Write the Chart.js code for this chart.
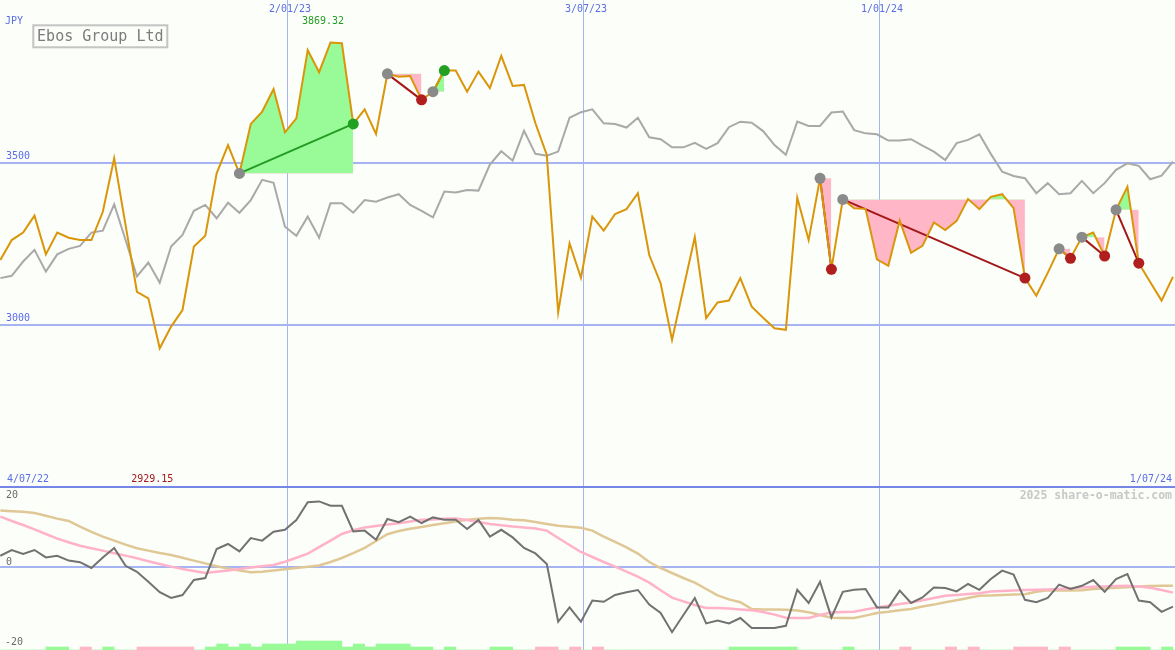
<!DOCTYPE html>
<html>
<head>
<meta charset="utf-8">
<title>Ebos Group Ltd</title>
<script src="https://cdn.jsdelivr.net/npm/chart.js@4.4.1/dist/chart.umd.min.js"></script>
<style>
  html, body { margin: 0; padding: 0; background: #fcfef9; }
  #wrap { position: relative; width: 1175px; height: 650px; overflow: hidden; background: #fcfef9; }
  canvas { position: absolute; left: 0; }
  #price { top: 0; }
  #osc { top: 485px; }
</style>
</head>
<body>
<div id="wrap">
  <canvas id="price" width="1175" height="485"></canvas>
  <canvas id="osc" width="1175" height="165"></canvas>
</div>
<script>
// weekly closes, 104 weeks
const PRICE = [
  3201, 3262, 3285, 3337, 3218, 3285, 3269, 3262, 3262, 3349,
  3513, 3308, 3103, 3083, 2929.15, 2996, 3047, 3242, 3275, 3467,
  3554, 3467, 3619, 3657, 3726, 3593, 3636, 3846, 3778, 3869.32,
  3867, 3619, 3664, 3588, 3773, 3764, 3766, 3693, 3718, 3783,
  3783, 3718, 3780, 3729, 3828, 3736, 3739, 3621, 3524, 3040,
  3252, 3146, 3334, 3291, 3342, 3357, 3406, 3216, 3129, 2955,
  3113, 3271, 3022, 3070, 3076, 3145, 3057, 3023, 2991, 2986,
  3392, 3262, 3452, 3172, 3387, 3360, 3358, 3203, 3183, 3322,
  3223, 3244, 3316, 3293, 3321, 3388, 3357, 3395, 3403, 3360,
  3145, 3091, 3161, 3235, 3206, 3271, 3285, 3213, 3355, 3426,
  3191, 3133, 3076, 3149,
];

// comparison line (grey)
const RELATIVE = [
  3145, 3152, 3196, 3232, 3165, 3218, 3235, 3244, 3285, 3291,
  3372, 3262, 3150, 3193, 3131, 3242, 3278, 3352, 3370, 3329,
  3377, 3346, 3385, 3447, 3438, 3303, 3275, 3334, 3269, 3375,
  3375, 3346, 3385, 3380, 3393, 3403, 3370, 3352, 3332, 3411,
  3408, 3416, 3414, 3494, 3535, 3506, 3598, 3527, 3521, 3534,
  3638, 3655, 3664, 3621, 3619, 3608, 3638, 3578, 3572, 3547,
  3547, 3561, 3542, 3560, 3609, 3626, 3623, 3597, 3554, 3524,
  3626, 3613, 3613, 3654, 3657, 3600, 3590, 3587, 3568, 3568,
  3572, 3552, 3534, 3508, 3560, 3570, 3587, 3527, 3472, 3459,
  3452, 3406, 3437, 3403, 3406, 3444, 3406, 3437, 3478, 3498,
  3490, 3449, 3460, 3503,
];

// lower panel
const MOMENTUM = [
  2.8, 4.25, 3.25, 4.25, 2.4, 2.8, 1.6, 1.2, -0.25, 2.4,
  4.75, 0.3, -1.2, -3.7, -6.3, -7.75, -7, -3.25, -2.75, 4.5,
  5.75, 3.9, 7.25, 6.6, 8.8, 9.3, 11.75, 16.2, 16.4, 15.3,
  15.3, 8.9, 9.1, 6.8, 12, 11.2, 12.6, 11, 12.4, 11.8,
  11.8, 9.5, 11.75, 7.6, 9.3, 7.4, 4.75, 3.4, 0.75, -13.7,
  -10.1, -13.7, -8.4, -8.7, -7, -6.3, -5.75, -9.4, -11.5, -16.3,
  -12, -7.75, -14.1, -13.4, -14.1, -12.75, -15.25, -15.25, -15.25, -14.7,
  -5.7, -9, -3.7, -12.6, -6.2, -5.7, -5.5, -10.1, -10.1, -5.9,
  -9, -7.6, -5.1, -5.25, -6.1, -4.25, -5.7, -3, -0.9, -1.9,
  -8.2, -8.8, -7.75, -4.4, -5.5, -4.7, -3.25, -6.2, -3, -1.75,
  -8.4, -8.8, -11.2, -9.9,
];

const FAST_AVG = [
  12.6, 11.5, 10.5, 9.4, 8.25, 7.1, 6.2, 5.3, 4.7, 4.1,
  3.45, 2.85, 2.2, 1.45, 0.75, 0.1, -0.5, -1.0, -1.5, -1.2,
  -0.9, -0.5, -0.15, 0.2, 0.5, 1.3, 2.3, 3.35, 4.95, 6.6,
  8.25, 9.2, 9.9, 10.25, 10.6, 10.95, 11.4, 11.8, 11.9, 12.05,
  12.15, 11.75, 11.25, 10.75, 10.45, 10.1, 9.9, 9.65, 9.1, 7.25,
  5.5, 3.75, 2.5, 1.25, 0.1, -1.15, -2.4, -3.9, -5.8, -7.65,
  -8.6, -9.5, -10.25, -10.25, -10.4, -10.6, -10.8, -11.25, -11.9, -12.7,
  -12.75, -12.75, -12, -11.35, -11.25, -11.2, -10.65, -10.1, -9.7, -9.25,
  -8.85, -8.3, -7.75, -7.2, -7, -6.75, -6.55, -6.1, -6, -5.9,
  -5.75, -5.7, -5.6, -5.5, -5.3, -5.1, -4.95, -4.85, -4.75, -4.7,
  -4.9, -5.2, -5.75, -6.4,
];

const SLOW_AVG = [
  14.1, 13.95, 13.8, 13.5, 12.8, 12.1, 11.5, 10.1, 8.8, 7.6,
  6.6, 5.6, 4.7, 4.1, 3.5, 3, 2.3, 1.6, 0.9, 0.2,
  -0.4, -0.9, -1.3, -1.2, -0.9, -0.55, -0.25, 0.05, 0.4, 1.25,
  2.25, 3.45, 4.8, 6.5, 8.2, 9, 9.55, 10, 10.5, 10.95,
  11.4, 11.8, 12.05, 12.25, 12.1, 11.8, 11.7, 11.25, 10.75, 10.3,
  10.05, 9.8, 9.1, 7.6, 6.3, 4.9, 3.35, 1.25, -0.25, -1.5,
  -2.75, -3.9, -5.5, -7.1, -8.1, -8.8, -10.5, -10.6, -10.6, -10.7,
  -10.9, -11.3, -12, -12.7, -12.75, -12.75, -12.15, -11.5, -11.2, -10.8,
  -10.5, -9.9, -9.4, -8.8, -8.3, -7.75, -7.2, -7.1, -7, -6.9,
  -6.8, -6.2, -5.8, -5.85, -5.9, -5.8, -5.5, -5.35, -5.2, -5.05,
  -4.9, -4.75, -4.7, -4.7,
];

// signal strip at the bottom: + green, - pink
const SIGNAL = [
  0, 0, 0, 0, 1, 1, 0, -1, 0, 1,
  0, 0, -1, -1, -1, -1, -1, 0, 1, 2,
  1, 2, 1, 2, 2, 2, 3, 3, 3, 3,
  1, 2, 1, 2, 2, 2, 1, 1, 0, 1,
  0, 0, 0, 1, 1, 0, 0, -1, -1, 0,
  -1, 0, -1, 0, 0, 0, 0, 0, 0, 0,
  0, 0, 0, 0, 1, 1, 1, 1, 1, 1,
  0, 0, 0, 0, 1, 0, 0, 0, 0, -1,
  0, 0, 0, -1, 0, -1, 0, 0, 0, -1,
  -1, -1, 0, -1, 0, 0, 0, 0, 1, 1,
  1, 0, 1, 0,
];

const TRADE_ENTRY = [21, 34, 38, 72, 74, 93, 95, 98];
const TRADE_EXIT = [31, 37, 39, 73, 90, 94, 97, 100];

const DATE_LABELS = ['4/07/22', '2/01/23', '3/07/23', '1/01/24', '1/07/24'];
const DATE_WEEKS = [-0.82, 25.18, 51.18, 77.18, 103.18];
const PRICE_TICKS = [3000, 3500];
const OSC_TICKS = [20, 0, -20];

const TITLE = 'Ebos Group Ltd';
const CURRENCY = 'JPY';
const WATERMARK = '2025 share-o-matic.com';

const X_MIN = -0.03;
const X_MAX = 103.18;

const BG = '#fcfef9';
const GRID = '#a6b4f2';
const GRID_DARK = '#7686e6';
const AXIS_BLUE = '#5a6de6';
const FONT = '"DejaVu Sans Mono", "Liberation Mono", monospace';
const FILL_UP = '#98fb98';
const FILL_DOWN = '#ffb6c6';

const toPoints = (values) => values.map((y, x) => ({ x, y }));

function xScaleOptions() {
  return {
    type: 'linear',
    min: X_MIN,
    max: X_MAX,
    offset: false,
    border: { display: false },
    ticks: { display: false },
    grid: { drawTicks: false, offset: false, color: GRID, lineWidth: 1 },
    afterBuildTicks(scale) {
      scale.ticks = DATE_WEEKS.slice(1, -1).map((value) => ({ value }));
    },
  };
}

function tradeDatasets() {
  const sets = [];

  TRADE_ENTRY.forEach((entry, i) => {
    const exit = TRADE_EXIT[i];
    const won = PRICE[exit] > PRICE[entry];
    const ends = [{ x: entry, y: PRICE[entry] }, { x: exit, y: PRICE[exit] }];
    const span = [];

    for (let k = entry; k <= exit; k++) {
      span.push({ x: k, y: PRICE[k] });
    }

    sets.push({
      data: span,
      borderWidth: 0,
      pointRadius: 0,
      order: 10,
      fill: { target: { value: PRICE[entry] }, above: FILL_UP, below: FILL_DOWN },
    });

    // entry -> exit line sits under the price line, markers on top
    sets.push({
      data: ends,
      borderColor: won ? '#249c24' : '#a31818',
      borderWidth: 2,
      pointRadius: 0,
      order: 5.5,
    });

    sets.push({
      data: ends,
      showLine: false,
      pointRadius: 5.5,
      pointBorderWidth: 0,
      pointBackgroundColor: ['#8a8a8a', won ? '#22a022' : '#b01e1e'],
      order: 1,
    });
  });

  return sets;
}

const priceLabels = {
  id: 'priceLabels',
  afterDatasetsDraw(chart) {
    const { ctx, scales: { x, y } } = chart;
    const last = DATE_LABELS.length - 1;
    ctx.save();
    ctx.font = `10px ${FONT}`;
    ctx.textBaseline = 'middle';
    ctx.fillStyle = AXIS_BLUE;
    ctx.textAlign = 'left';
    ctx.fillText(CURRENCY, 5, 21);
    PRICE_TICKS.forEach((v) => ctx.fillText(String(v), 6, y.getPixelForValue(v) - 6.5));
    ctx.fillText(DATE_LABELS[0], 7, 479);
    ctx.textAlign = 'right';
    ctx.fillText(DATE_LABELS[last], 1172, 479);
    ctx.textAlign = 'center';
    for (let i = 1; i < last; i++) {
      ctx.fillText(DATE_LABELS[i], x.getPixelForValue(DATE_WEEKS[i]) + 3, 9);
    }

    const hi = PRICE.indexOf(Math.max(...PRICE));
    const lo = PRICE.indexOf(Math.min(...PRICE));
    ctx.fillStyle = '#249c24';
    ctx.fillText(PRICE[hi].toFixed(2), x.getPixelForValue(hi) - 7.5, 21);
    ctx.fillStyle = '#a31818';
    ctx.fillText(PRICE[lo].toFixed(2), x.getPixelForValue(lo) - 7.5, 479);

    // title box
    ctx.fillStyle = BG;
    ctx.fillRect(33.3, 25.3, 134, 22);
    ctx.strokeStyle = '#c4c4c4';
    ctx.lineWidth = 2;
    ctx.strokeRect(33.3, 25.3, 134, 22);
    ctx.fillStyle = '#7c7c7c';
    ctx.font = `15px ${FONT}`;
    ctx.fillText(TITLE, 100.3, 37);
    ctx.restore();
  },
};

const oscLabels = {
  id: 'oscLabels',
  afterDatasetsDraw(chart) {
    const { ctx, scales: { y } } = chart;
    ctx.save();
    ctx.font = `10px ${FONT}`;
    ctx.textBaseline = 'middle';
    ctx.textAlign = 'left';
    ctx.fillStyle = '#6a6a6a';
    OSC_TICKS.forEach((v) => {
      ctx.fillText(String(v), v < 0 ? 5 : 6, Math.max(y.getPixelForValue(v) - 4.5, 10.5));
    });
    ctx.font = `bold 11.5px ${FONT}`;
    ctx.textAlign = 'right';
    ctx.fillStyle = '#c8c8c8';
    ctx.fillText(WATERMARK, 1172, 11.5);
    ctx.restore();
  },
};

const baseOptions = {
  responsive: false,
  animation: false,
  events: [],
  layout: { padding: 0, autoPadding: false },
  plugins: { legend: { display: false }, tooltip: { enabled: false } },
  elements: { line: { tension: 0 }, point: { radius: 0, hoverRadius: 0 } },
};

new Chart(document.getElementById('price'), {
  type: 'line',
  data: {
    datasets: [
      ...tradeDatasets(),
      { data: toPoints(RELATIVE), borderColor: '#a9a9a9', borderWidth: 2, fill: false, order: 6 },
      { data: toPoints(PRICE), borderColor: '#d9960a', borderWidth: 2, fill: false, order: 5 },
    ],
  },
  options: {
    ...baseOptions,
    scales: {
      x: xScaleOptions(),
      y: {
        min: 2509,
        max: 4000,
        border: { display: false },
        ticks: { display: false },
        grid: { drawTicks: false, color: GRID, lineWidth: 2 },
        afterBuildTicks(scale) {
          scale.ticks = PRICE_TICKS.map((value) => ({ value }));
        },
      },
    },
  },
  plugins: [priceLabels],
});

new Chart(document.getElementById('osc'), {
  type: 'line',
  data: {
    datasets: [
      {
        type: 'bar',
        yAxisID: 'sig',
        data: SIGNAL.map((v, k) => ({ x: k + 0.5, y: Math.abs(v) })),
        backgroundColor: SIGNAL.map((v) => (v >= 0 ? FILL_UP : FILL_DOWN)),
        borderWidth: 0,
        barPercentage: 1,
        categoryPercentage: 1,
        order: 9,
      },
      { data: toPoints(SLOW_AVG), borderColor: '#e0c896', borderWidth: 2.5, fill: false, order: 4 },
      { data: toPoints(FAST_AVG), borderColor: '#ffb2c8', borderWidth: 2.5, fill: false, order: 3 },
      { data: toPoints(MOMENTUM), borderColor: '#727272', borderWidth: 2, fill: false, order: 2 },
    ],
  },
  options: {
    ...baseOptions,
    scales: {
      x: xScaleOptions(),
      y: {
        min: -20.75,
        max: 20.5,
        border: { display: false },
        ticks: { display: false },
        grid: {
          drawTicks: false,
          lineWidth: 2,
          color: (c) => (c.tick && c.tick.value === 20 ? GRID_DARK : GRID),
        },
        afterBuildTicks(scale) {
          scale.ticks = OSC_TICKS.filter((v) => v >= 0).map((value) => ({ value }));
        },
      },
      sig: {
        display: false,
        position: 'right',
        min: 0,
        max: 55,
      },
    },
  },
  plugins: [oscLabels],
});
</script>
</body>
</html>
